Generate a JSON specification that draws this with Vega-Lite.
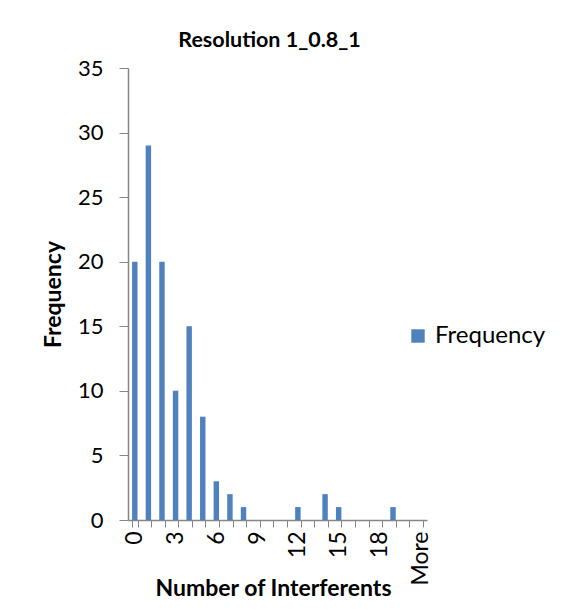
{
  "$schema": "https://vega.github.io/schema/vega-lite/v6.json",
  "autosize": {"type": "none"},
  "width": 299,
  "height": 452,
  "padding": {"left": 128, "top": 68, "right": 144, "bottom": 90},
  "background": "white",
  "title": {
    "text": "Resolution 1_0.8_1",
    "font": "Lato",
    "fontSize": 21.5,
    "fontWeight": "bold",
    "color": "#000000",
    "anchor": "middle",
    "dx": -8,
    "offset": 6
  },
  "data": {
    "values": [
      {"bin": "0", "count": 20},
      {"bin": "1", "count": 29},
      {"bin": "2", "count": 20},
      {"bin": "3", "count": 10},
      {"bin": "4", "count": 15},
      {"bin": "5", "count": 8},
      {"bin": "6", "count": 3},
      {"bin": "7", "count": 2},
      {"bin": "8", "count": 1},
      {"bin": "9", "count": 0},
      {"bin": "10", "count": 0},
      {"bin": "11", "count": 0},
      {"bin": "12", "count": 1},
      {"bin": "13", "count": 0},
      {"bin": "14", "count": 2},
      {"bin": "15", "count": 1},
      {"bin": "16", "count": 0},
      {"bin": "17", "count": 0},
      {"bin": "18", "count": 0},
      {"bin": "19", "count": 1},
      {"bin": "20", "count": 0},
      {"bin": "More", "count": 0}
    ]
  },
  "mark": {"type": "bar", "color": "#4F81BD"},
  "encoding": {
    "x": {
      "field": "bin",
      "type": "nominal",
      "sort": null,
      "scale": {"paddingInner": 0.6, "paddingOuter": 0.3},
      "axis": {
        "title": "Number of Interferents",
        "titleFont": "Lato",
        "titleFontSize": 23,
        "titleFontWeight": "bold",
        "titleColor": "#000000",
        "titleBaseline": "alphabetic",
        "titleY": 75,
        "titleX": 145,
        "labelFont": "Lato",
        "labelFontSize": 23,
        "labelColor": "#000000",
        "labelAngle": -90,
        "labelPadding": 4,
        "labelExpr": "indexof(['0','3','6','9','12','15','18','More'], datum.value) >= 0 ? datum.label : ''",
        "tickBand": "extent",
        "tickSize": 7,
        "tickColor": "#868686",
        "domainColor": "#868686",
        "domainWidth": 1.5,
        "grid": false
      }
    },
    "y": {
      "field": "count",
      "type": "quantitative",
      "scale": {"domain": [0, 35]},
      "axis": {
        "title": "Frequency",
        "titleFont": "Lato",
        "titleFontSize": 23,
        "titleFontWeight": "bold",
        "titleColor": "#000000",
        "titleBaseline": "middle",
        "titleX": -75,
        "labelFont": "Lato",
        "labelFontSize": 22,
        "labelColor": "#000000",
        "labelPadding": 16,
        "values": [0, 5, 10, 15, 20, 25, 30, 35],
        "tickSize": 9,
        "tickColor": "#868686",
        "domainColor": "#868686",
        "domainWidth": 1.5,
        "grid": false
      }
    },
    "fill": {
      "datum": "Frequency",
      "type": "nominal",
      "scale": {"range": ["#4F81BD"]},
      "legend": {
        "title": null,
        "orient": "none",
        "legendX": 278,
        "legendY": 256,
        "symbolType": "square",
        "symbolSize": 180,
        "symbolStrokeWidth": 0,
        "labelFont": "Lato",
        "labelFontSize": 24,
        "labelColor": "#000000",
        "labelOffset": 5
      }
    }
  },
  "config": {"view": {"stroke": null}}
}
